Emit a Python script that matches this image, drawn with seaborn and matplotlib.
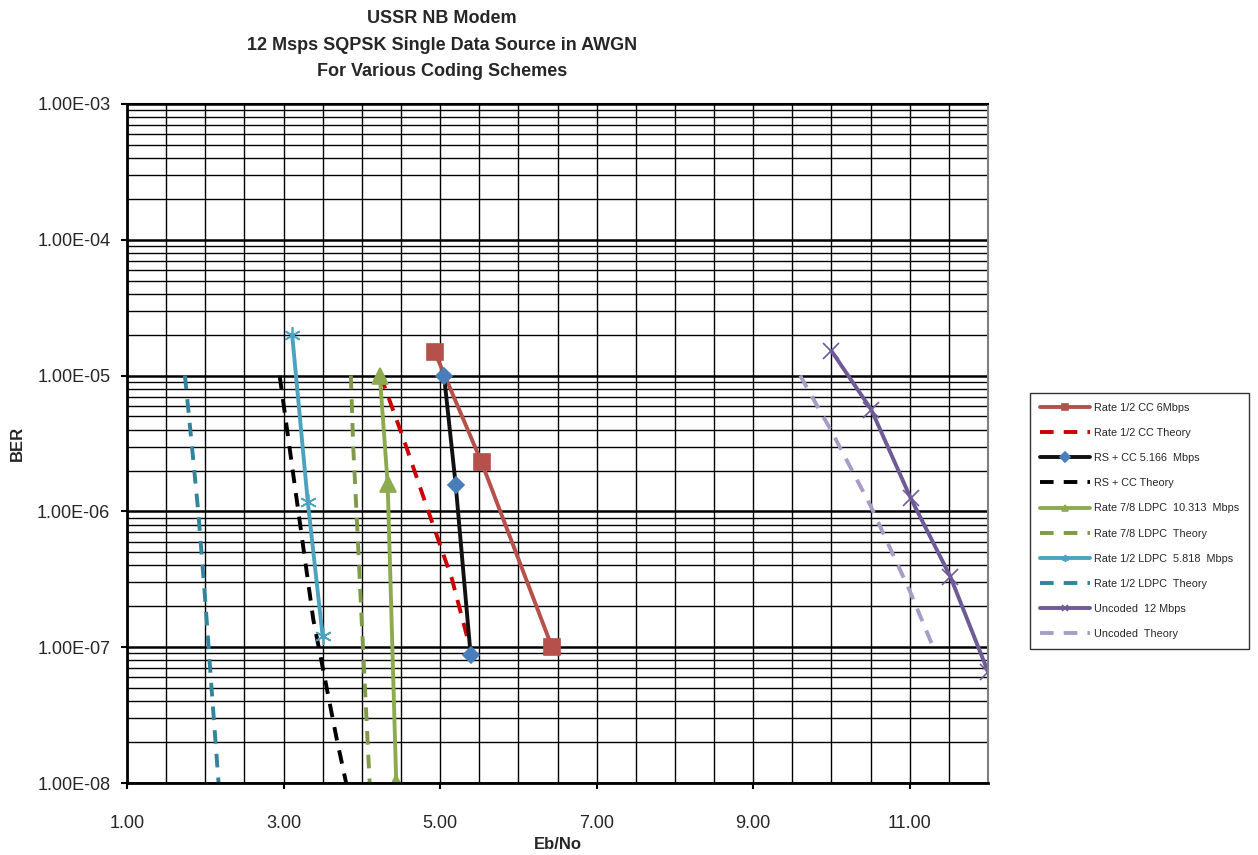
"""Coded BER curves for the USSR NB modem, 12 Msps SQPSK in AWGN."""
import matplotlib
matplotlib.use("Agg")
import matplotlib.pyplot as plt
import numpy as np
import seaborn as sns
from matplotlib.ticker import FixedLocator, LogLocator, NullFormatter

cc_x = [4.93, 5.53, 6.43]
cc_ber = [1.5e-5, 2.3e-6, 1.0e-7]
cc_th_x = [4.24, 4.55, 4.85, 5.15, 5.38]
cc_th_ber = [1.0e-5, 3.2e-6, 1.0e-6, 3.2e-7, 1.0e-7]

rs_x = [5.05, 5.20, 5.39]
rs_ber = [1.0e-5, 1.56e-6, 8.8e-8]
rs_th_x = [2.95, 3.17, 3.38, 3.68, 3.80]
rs_th_ber = [1.0e-5, 1.2e-6, 1.6e-7, 2.1e-8, 1.0e-8]

ldpc78_x = [4.23, 4.33, 4.44]
ldpc78_ber = [1.0e-5, 1.6e-6, 1.0e-8]
ldpc78_th_x = [3.86, 3.89, 3.94, 4.00, 4.10]
ldpc78_th_ber = [1.0e-5, 3.0e-6, 8.0e-7, 1.5e-7, 1.0e-8]

ldpc12_x = [3.11, 3.31, 3.50]
ldpc12_ber = [2.0e-5, 1.17e-6, 1.2e-7]
ldpc12_th_x = [1.74, 1.83, 1.91, 2.00, 2.08, 2.17]
ldpc12_th_ber = [1.0e-5, 3.0e-6, 1.0e-6, 2.2e-7, 5.0e-8, 1.0e-8]

unc_x = [10.0, 10.51, 11.01, 11.52, 12.0]
unc_ber = [1.52e-5, 5.6e-6, 1.26e-6, 3.3e-7, 6.6e-8]
unc_th_x = [9.6, 10.0, 10.5, 11.0, 11.3]
unc_th_ber = [1.0e-5, 3.9e-6, 1.1e-6, 2.6e-7, 1.0e-7]

y_ticks = [1e-8, 1e-7, 1e-6, 1e-5, 1e-4, 1e-3]
y_labels = ["1.00E-08", "1.00E-07", "1.00E-06", "1.00E-05", "1.00E-04", "1.00E-03"]
x_ticks = [1, 3, 5, 7, 9, 11]
x_labels = ["1.00", "3.00", "5.00", "7.00", "9.00", "11.00"]

SERIES = [
    # label, x, y, color, dashed, marker, marker color, marker size
    ("Rate 1/2 CC 6Mbps", cc_x, cc_ber, "#B5504A", False, "s", "#B5504A", 11),
    ("Rate 1/2 CC Theory", cc_th_x, cc_th_ber, "#CC0000", True, None, None, 0),
    ("RS + CC 5.166  Mbps", rs_x, rs_ber, "#111111", False, "D", "#4A7EBB", 8),
    ("RS + CC Theory", rs_th_x, rs_th_ber, "#000000", True, None, None, 0),
    ("Rate 7/8 LDPC  10.313  Mbps", ldpc78_x, ldpc78_ber, "#8DAA4F", False, "^", "#8DAA4F", 11),
    ("Rate 7/8 LDPC  Theory", ldpc78_th_x, ldpc78_th_ber, "#7F9A48", True, None, None, 0),
    ("Rate 1/2 LDPC  5.818  Mbps", ldpc12_x, ldpc12_ber, "#4BA3C0", False, (6, 2, 0), "#4BA3C0", 12),
    ("Rate 1/2 LDPC  Theory", ldpc12_th_x, ldpc12_th_ber, "#31849B", True, None, None, 0),
    ("Uncoded  12 Mbps", unc_x, unc_ber, "#6E5A96", False, "x", "#6E5A96", 12),
    ("Uncoded  Theory", unc_th_x, unc_th_ber, "#A89BC4", True, None, None, 0),
]

sns.set_theme(style="white")
plt.rcParams["font.family"] = ["Liberation Sans", "DejaVu Sans"]

fig = plt.figure(figsize=(12.58, 8.55), dpi=100)
ax = fig.add_axes([127 / 1258, 1 - 783 / 855, (988 - 127) / 1258, (783 - 104) / 855])

for label, xs, ys, color, dashed, marker, mcolor, msize in SERIES:
    kw = dict(x=np.array(xs), y=np.array(ys), ax=ax, color=color, label=label,
              linewidth=2.8, estimator=None, sort=False)
    if dashed:
        kw.update(linestyle=(0, (3.5, 2.6)))
    else:
        kw.update(marker=marker, markersize=msize, markerfacecolor=mcolor,
                  markeredgecolor=mcolor, markeredgewidth=1.2)
    sns.lineplot(**kw)

ax.set_yscale("log")
ax.set_xlim(1, 12)
ax.set_ylim(1e-8, 1e-3)

ax.yaxis.set_major_locator(FixedLocator(y_ticks))
ax.set_yticklabels(y_labels)
ax.yaxis.set_minor_locator(LogLocator(base=10, subs=np.arange(2, 10)))
ax.yaxis.set_minor_formatter(NullFormatter())
ax.xaxis.set_major_locator(FixedLocator(x_ticks))
ax.set_xticklabels(x_labels)
ax.xaxis.set_minor_locator(FixedLocator(np.arange(1, 12.01, 0.5)))

ax.grid(which="major", axis="y", color="black", linewidth=1.8, zorder=0)
ax.grid(which="minor", axis="y", color="black", linewidth=1.0, zorder=0)
ax.grid(which="minor", axis="x", color="black", linewidth=1.0, zorder=0)
ax.grid(which="major", axis="x", color="black", linewidth=1.0, zorder=0)
ax.set_axisbelow(True)

ax.tick_params(axis="both", which="major", direction="out", length=4, width=1.5,
               color="black", labelsize=13, left=True, bottom=True)
ax.tick_params(axis="y", pad=8)
ax.tick_params(axis="x", pad=19)
ax.tick_params(axis="both", which="minor", length=0)

for side in ("left", "bottom"):
    ax.spines[side].set_color("black")
    ax.spines[side].set_linewidth(2.0)
ax.spines["right"].set_color("#808080")
ax.spines["right"].set_linewidth(1.5)
ax.spines["top"].set_color("black")
ax.spines["top"].set_linewidth(1.5)

ax.set_xlabel("Eb/No", fontsize=12, fontweight="bold")
ax.xaxis.set_label_coords(0.5, -(844 - 783) / (783 - 104), transform=ax.transAxes)
ax.set_ylabel("BER", fontsize=12, fontweight="bold")
ax.yaxis.set_label_coords(-(127 - 17) / (988 - 127), 0.5)
ax.xaxis.label.set_va("center")
ax.yaxis.label.set_va("center")

fig.text(442 / 1258, 1 - 45 / 855,
         "USSR NB Modem\n12 Msps SQPSK Single Data Source in AWGN\nFor Various Coding Schemes",
         ha="center", va="center", fontsize=13, fontweight="bold", linespacing=1.7)

leg = ax.legend(loc="upper left", bbox_to_anchor=(1030 / 1258, 1 - 393 / 855),
                bbox_transform=fig.transFigure, fontsize=7.8, frameon=True,
                fancybox=False, edgecolor="black", handlelength=4.6,
                labelspacing=1.4, borderpad=0.9, handletextpad=0.45,
                borderaxespad=0)
leg.get_frame().set_linewidth(1.0)
for line in leg.get_lines():
    line.set_markersize(5)

fig.savefig("out.png", dpi=100)
